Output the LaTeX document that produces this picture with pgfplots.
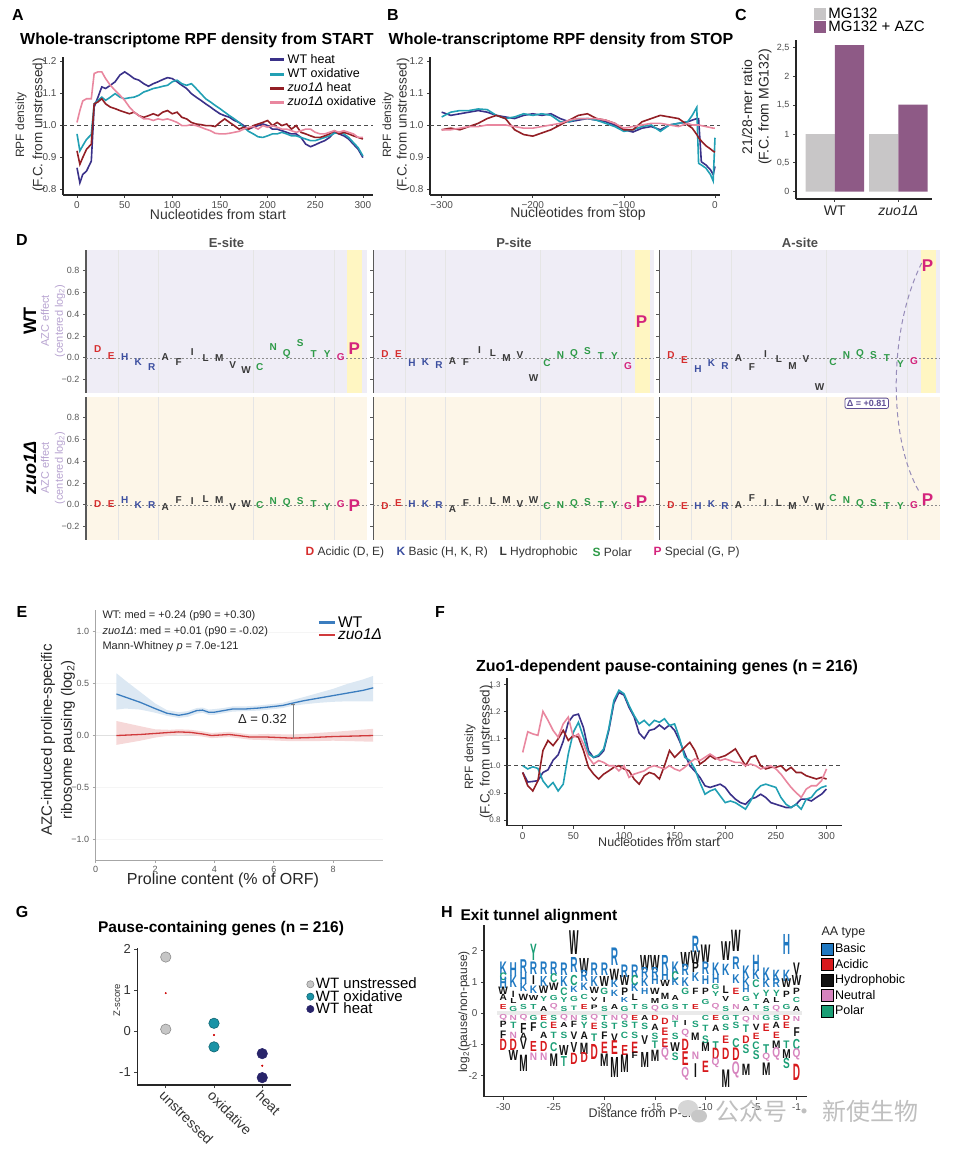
\documentclass[border=0pt]{standalone}
\usepackage{fontspec}
\setmainfont{Liberation Sans}
\newfontfamily\cjk{Noto Sans CJK SC}
\usepackage{pgfplots}
\usepackage{pgfplotstable}
\pgfplotsset{compat=1.18}

\newcommand\fs[1]{\fontsize{#1}{#1}\selectfont}

% series colours
\definecolor{cheat}{HTML}{3A3189}
\definecolor{cox}{HTML}{22A0B4}
\definecolor{czh}{HTML}{931F25}
\definecolor{czo}{HTML}{E9879F}
\definecolor{mgray}{HTML}{C8C6C7}
\definecolor{mpurp}{HTML}{8E5A86}
\definecolor{eblue}{HTML}{3B7DBF}
\definecolor{ered}{HTML}{D03A3C}
\definecolor{gcirc}{HTML}{C6C6C6}
\definecolor{gteal}{HTML}{1A93A6}
\definecolor{gnavy}{HTML}{28246A}
% amino-acid classes (panel D)
\definecolor{acid}{HTML}{D62D2D}
\definecolor{basic}{HTML}{3C4FA0}
\definecolor{hydro}{HTML}{3A3A3A}
\definecolor{polar}{HTML}{2E9A48}
\definecolor{special}{HTML}{D4247C}
\definecolor{wtbg}{HTML}{EFEDF6}
\definecolor{zbg}{HTML}{FDF6E8}
\definecolor{band}{HTML}{FFF6C2}
\definecolor{azc}{HTML}{B7A3D0}
\definecolor{dpurp}{HTML}{5E4E94}
% amino-acid classes (panel H)
\definecolor{hbasic}{HTML}{1F78C1}
\definecolor{hacid}{HTML}{D7191C}
\definecolor{hhyd}{HTML}{111111}
\definecolor{hneu}{HTML}{D683BE}
\definecolor{hpol}{HTML}{1A9E75}

\colorlet{dD}{acid}\colorlet{dE}{acid}
\colorlet{dH}{basic}\colorlet{dK}{basic}\colorlet{dR}{basic}
\colorlet{dA}{hydro}\colorlet{dF}{hydro}\colorlet{dI}{hydro}\colorlet{dL}{hydro}
\colorlet{dM}{hydro}\colorlet{dV}{hydro}\colorlet{dW}{hydro}
\colorlet{dC}{polar}\colorlet{dN}{polar}\colorlet{dQ}{polar}\colorlet{dS}{polar}
\colorlet{dT}{polar}\colorlet{dY}{polar}
\colorlet{dG}{special}\colorlet{dP}{special}

\colorlet{hH}{hbasic}\colorlet{hK}{hbasic}\colorlet{hR}{hbasic}
\colorlet{hD}{hacid}\colorlet{hE}{hacid}
\colorlet{hA}{hhyd}\colorlet{hF}{hhyd}\colorlet{hI}{hhyd}\colorlet{hL}{hhyd}
\colorlet{hM}{hhyd}\colorlet{hP}{hhyd}\colorlet{hV}{hhyd}\colorlet{hW}{hhyd}
\colorlet{hQ}{hneu}\colorlet{hN}{hneu}
\colorlet{hC}{hpol}\colorlet{hG}{hpol}\colorlet{hS}{hpol}\colorlet{hT}{hpol}\colorlet{hY}{hpol}

\newcommand\dlet[1]{\textcolor{d#1}{\if P#1\fs{17}\fi#1}}
\newcommand\dletm{\edef\curlet{\pgfplotspointmeta}\expandafter\dlet\expandafter{\curlet}}
\newcommand\hlet[1]{\textcolor{h#1}{#1}}
\newcommand\hletm{\edef\curlet{\pgfplotspointmeta}\expandafter\hlet\expandafter{\curlet}}

\pgfplotsset{
  /pgf/number format/assume math mode=true,
  gg/.style={scale only axis, anchor=south west, axis lines*=left,
    axis line style={line width=1.1pt, black!85},
    tick align=outside, major tick length=3pt,
    tick style={black!75, line width=0.7pt},
    ticklabel style={text=black!70, font=\fs{10}},
    clip=false},
  dface/.style={scale only axis, anchor=south west, width=281pt, height=142.8pt,
    xmin=0.13, xmax=20.95, ymin=-0.32, ymax=0.99,
    axis y line*=left, axis x line*=bottom,
    x axis line style={draw=none}, xtick style={draw=none},
    xtick={2.5,5.5,12.5,18.5}, xticklabels={}, xmajorgrids,
    major x grid style={black!10, line width=0.6pt},
    y axis line style={black!65, line width=1.4pt},
    ytick={-0.2,0,0.2,0.4,0.6,0.8},
    yticklabels={−0.2,0.0,0.2,0.4,0.6,0.8},
    tick align=outside, major tick length=3pt,
    ytick style={black!65, line width=0.8pt},
    yticklabel style={text=black!65, font=\fs{9}},
    clip=false},
}

% ---------- data ----------
\pgfplotstableread{
x h o zh zo
0 0.866 0.972 0.919 1.008
3 0.819 0.919 0.877 1.045
6 0.845 0.935 0.898 1.075
10 0.856 0.955 0.924 1.082
15 0.887 0.970 0.940 1.082
18 1.056 1.066 1.066 1.161
22 1.087 1.077 1.072 1.166
26 1.119 1.087 1.082 1.166
30 1.114 1.077 1.066 1.145
35 1.124 1.087 1.056 1.124
40 1.135 1.098 1.051 1.108
45 1.156 1.087 1.045 1.093
50 1.166 1.082 1.040 1.077
55 1.156 1.085 1.035 1.056
60 1.145 1.087 1.040 1.040
65 1.140 1.093 1.029 1.029
70 1.129 1.103 1.024 1.019
75 1.121 1.108 1.029 1.019
80 1.129 1.114 1.035 1.014
85 1.135 1.117 1.029 1.019
90 1.142 1.121 1.040 1.016
95 1.148 1.124 1.045 1.019
100 1.145 1.135 1.035 1.014
105 1.135 1.140 1.040 1.008
110 1.124 1.129 1.024 0.998
115 1.114 1.124 1.019 0.998
120 1.098 1.129 1.008 1.001
125 1.087 1.114 1.003 0.998
130 1.077 1.098 1.001 0.993
135 1.066 1.082 0.998 0.987
140 1.056 1.072 0.998 0.982
145 1.045 1.061 0.995 0.974
150 1.035 1.051 1.008 0.972
155 1.029 1.040 1.019 0.972
160 1.024 1.029 1.008 0.974
165 1.014 1.019 0.998 0.977
170 1.008 1.008 0.987 0.980
175 0.998 0.993 0.993 0.987
180 0.987 0.980 0.987 0.993
185 0.993 0.972 0.998 0.995
190 0.998 0.963 1.003 0.987
195 1.003 0.961 1.008 0.998
200 0.998 0.966 1.014 0.993
205 0.987 0.972 0.998 0.998
210 0.987 0.972 1.008 0.993
215 0.982 0.977 0.998 0.987
220 0.977 0.972 1.003 0.987
225 0.972 0.966 0.987 0.982
230 0.972 0.966 0.998 0.977
235 0.961 0.961 0.977 0.982
240 0.940 0.956 0.972 0.987
245 0.932 0.951 0.966 0.987
250 0.938 0.951 0.961 0.977
255 0.945 0.956 0.961 0.972
260 0.951 0.961 0.966 0.972
265 0.961 0.966 0.972 0.977
270 0.977 0.974 0.982 0.982
275 0.972 0.977 0.972 0.977
280 0.966 0.972 0.977 0.982
285 0.956 0.961 0.972 0.977
290 0.940 0.945 0.966 0.972
295 0.924 0.929 0.961 0.961
300 0.898 0.903 0.956 0.961
}\tabA

\pgfplotstableread{
x h o zh zo
-300 1.040 1.025 0.985 0.985
-290 1.030 1.040 0.990 0.985
-280 1.035 1.045 0.985 0.990
-270 1.040 1.045 0.995 0.995
-260 1.045 1.050 1.005 0.995
-250 1.040 1.048 1.020 1.000
-240 1.030 1.030 1.030 1.000
-230 1.025 1.020 1.020 1.000
-220 1.020 1.025 0.985 0.995
-210 1.030 1.035 0.970 0.990
-200 1.035 1.030 0.965 0.990
-190 1.030 1.035 0.975 0.995
-180 1.035 1.030 0.985 1.000
-170 1.020 1.010 1.000 1.005
-160 1.010 1.010 1.015 1.015
-150 1.015 1.020 1.030 1.020
-140 1.020 1.020 1.035 1.020
-130 1.015 1.015 1.020 1.020
-120 1.010 1.005 1.015 1.015
-110 1.000 0.995 1.005 1.005
-100 0.985 0.980 0.985 0.990
-90 0.978 0.985 0.985 0.995
-80 0.990 0.995 1.010 1.000
-70 0.995 1.000 1.020 1.005
-60 0.985 0.980 1.030 1.005
-50 1.000 1.000 1.025 1.000
-40 1.005 1.005 1.020 0.995
-30 1.010 1.010 1.000 1.005
-25 1.015 1.030 0.990 1.000
-20 1.020 1.055 0.970 1.000
-18 1.020 0.880 0.960 1.000
-15 0.885 0.875 0.950 0.998
-10 0.875 0.865 0.935 0.995
-5 0.860 0.845 0.925 0.992
-2 0.845 0.825 0.918 0.990
0 0.870 0.960 0.915 0.990
}\tabB

\pgfplotstableread{
x h o zh zo
0 0.975 1.000 0.975 1.049
5 0.940 0.988 0.926 1.125
10 0.942 0.996 0.907 1.117
15 0.945 0.990 0.944 1.112
20 0.975 0.944 1.056 1.200
25 0.985 0.920 1.093 1.167
30 1.020 0.938 1.074 1.130
35 1.040 0.907 1.099 1.105
40 1.090 0.932 1.130 1.154
45 1.160 1.043 1.093 1.179
50 1.185 1.123 1.111 1.105
55 1.190 1.160 1.105 1.117
60 1.140 1.105 1.056 1.080
65 1.055 1.043 0.994 1.031
70 1.030 1.031 0.969 1.006
75 1.035 1.040 0.951 1.019
80 1.055 1.062 0.969 1.012
85 1.130 1.136 0.981 1.000
90 1.230 1.240 0.994 1.000
95 1.270 1.278 1.000 0.981
100 1.260 1.265 0.988 1.000
105 1.215 1.222 0.981 0.957
110 1.180 1.185 0.951 0.969
115 1.120 1.154 0.932 0.975
120 1.100 1.167 0.963 0.981
125 1.130 1.148 0.975 0.994
130 1.135 1.167 0.969 1.000
135 1.150 1.160 0.951 0.994
140 1.135 1.173 1.000 0.988
145 1.150 1.148 1.056 1.000
150 1.130 1.154 1.031 0.988
155 1.090 1.099 1.049 0.981
160 1.045 1.031 1.068 0.994
165 1.000 1.019 1.086 1.012
170 0.980 0.988 1.056 1.025
175 0.957 0.938 1.006 1.019
180 0.926 0.895 1.019 1.031
185 0.920 0.907 1.037 1.043
190 0.926 0.914 1.025 1.031
195 0.932 0.889 1.031 1.019
200 0.920 0.864 1.037 1.025
205 0.895 0.870 1.049 1.019
210 0.877 0.864 1.062 1.012
215 0.864 0.852 1.031 1.012
220 0.858 0.840 1.000 1.000
225 0.877 0.870 1.031 1.006
230 0.883 0.907 1.037 1.000
235 0.895 0.926 1.000 0.988
240 0.883 0.932 0.988 0.994
245 0.864 0.926 0.994 1.000
250 0.858 0.920 0.994 0.988
255 0.852 0.883 1.000 0.969
260 0.846 0.858 0.981 0.944
265 0.846 0.846 0.994 0.920
270 0.858 0.858 0.975 0.901
275 0.877 0.840 0.975 0.883
280 0.877 0.877 0.963 0.914
285 0.870 0.883 0.957 0.926
290 0.883 0.907 0.951 0.926
295 0.895 0.920 0.957 0.944
300 0.914 0.926 0.951 0.988
}\tabF

\pgfplotstableread{
i l we ze wp zp wa za
1 D 0.077 0.006 0.037 -0.015 0.022 -0.006
2 E 0.018 0.006 0.037 0.020 -0.025 -0.015
3 H 0.006 0.045 -0.052 0.006 -0.105 -0.009
4 K -0.037 0.000 -0.043 0.006 -0.052 0.006
5 R -0.083 -0.006 -0.062 0.000 -0.077 -0.015
6 A 0.006 -0.024 -0.034 -0.040 -0.006 0.000
7 F -0.037 0.045 -0.043 0.015 -0.089 0.060
8 I 0.049 0.030 0.071 0.030 0.034 0.015
9 L 0.000 0.050 0.040 0.036 -0.009 0.015
10 M 0.000 0.045 0.000 0.045 -0.074 -0.009
11 V -0.062 -0.024 0.028 0.006 -0.009 0.040
12 W -0.108 0.006 -0.190 0.040 -0.268 -0.024
13 C -0.089 0.000 -0.052 -0.015 -0.037 0.060
14 N 0.100 0.030 0.022 0.000 0.025 0.040
15 Q 0.031 0.015 0.037 0.006 0.034 0.009
16 S 0.132 0.036 0.062 0.024 0.025 0.015
17 T 0.031 0.006 0.018 0.000 -0.006 -0.009
18 Y 0.031 -0.024 0.018 0.000 -0.058 -0.009
19 G 0.009 0.006 -0.074 -0.015 -0.028 0.000
20 P 0.080 -0.006 0.332 0.030 0.850 0.045
}\dtab

% smoothed medians
\pgfplotstableread{
x y
0.7 0.400
1.0 0.370
1.5 0.320
2.0 0.260
2.4 0.215
2.8 0.195
3.1 0.210
3.4 0.240
3.6 0.245
3.8 0.225
4.0 0.225
4.3 0.240
4.6 0.255
5.0 0.255
5.5 0.265
6.0 0.280
6.3 0.290
6.6 0.310
7.0 0.335
7.5 0.360
8.0 0.385
8.5 0.410
9.0 0.435
9.35 0.460
}\tabEw

\pgfplotstableread{
x y
0.7 0.000
1.5 0.010
2.0 0.020
2.5 0.030
2.8 0.035
3.2 0.030
3.6 0.015
3.9 0.000
4.2 0.005
4.5 0.010
4.8 0.000
5.2 -0.015
5.8 -0.015
6.6 -0.025
7.2 -0.020
8.0 -0.010
8.7 -0.005
9.35 0.000
}\tabEz

% confidence bands: upper edge left to right, then lower edge right to left
\pgfplotstableread{
x y
0.7 0.600
1.0 0.530
1.5 0.420
2.0 0.310
2.4 0.245
2.8 0.225
3.1 0.235
3.4 0.265
3.6 0.270
3.8 0.250
4.0 0.255
4.3 0.265
4.6 0.280
5.0 0.280
5.5 0.290
6.0 0.305
6.3 0.315
6.6 0.340
7.0 0.370
7.5 0.410
8.0 0.450
8.5 0.500
9.0 0.540
9.35 0.575
9.35 0.330
9.0 0.330
8.5 0.330
8.0 0.325
7.5 0.315
7.0 0.300
6.6 0.285
6.3 0.265
6.0 0.255
5.5 0.240
5.0 0.235
4.6 0.230
4.3 0.215
4.0 0.200
3.8 0.200
3.6 0.220
3.4 0.210
3.1 0.180
2.8 0.170
2.4 0.190
2.0 0.220
1.5 0.250
1.0 0.260
0.7 0.250
}\bandEw

\pgfplotstableread{
x y
0.7 0.140
1.5 0.090
2.0 0.060
2.5 0.055
2.8 0.060
3.2 0.055
3.6 0.040
3.9 0.025
4.2 0.030
4.5 0.035
4.8 0.025
5.2 0.010
5.8 0.015
6.6 0.010
7.2 0.020
8.0 0.035
8.7 0.050
9.35 0.065
9.35 -0.060
8.7 -0.055
8.0 -0.050
7.2 -0.055
6.6 -0.055
5.8 -0.045
5.2 -0.040
4.8 -0.025
4.5 -0.015
4.2 -0.020
3.9 -0.025
3.6 -0.010
3.2 0.005
2.8 0.010
2.5 0.000
2.0 -0.020
1.5 -0.050
0.7 -0.090
}\bandEz

\pgfplotstableread{
x y l s
-30 1.45 K 1.0
-30 1.18 C 0.6
-30 0.98 H 0.9
-30 0.72 W 0.6
-30 0.5 A 0.5
-30 0.2 E 0.4
-30 -0.15 Q 0.4
-30 -0.35 P 0.5
-30 -0.7 F 0.6
-30 -1.0 D 0.9
-29 1.4 H 1.1
-29 1.0 K 0.9
-29 0.6 I 0.5
-29 0.38 L 0.4
-29 0.15 G 0.4
-29 -0.15 N 0.4
-29 -0.4 T 0.5
-29 -0.72 N 0.5
-29 -1.0 D 0.9
-29 -1.35 W 0.8
-28 1.5 R 1.1
-28 1.1 H 0.9
-28 0.8 K 0.6
-28 0.52 W 0.5
-28 0.2 S 0.4
-28 -0.15 Q 0.4
-28 -0.5 F 0.8
-28 -0.75 A 0.5
-28 -1.0 V 0.8
-28 -1.6 M 1.3
-27 1.95 Y 1.3
-27 1.45 R 1.0
-27 1.05 I 0.7
-27 0.75 K 0.6
-27 0.5 W 0.4
-27 0.2 T 0.4
-27 -0.15 G 0.4
-27 -0.45 F 0.7
-27 -1.05 E 0.8
-27 -1.4 N 0.6
-26 1.45 R 1.0
-26 1.02 K 0.8
-26 0.75 W 0.6
-26 0.45 Y 0.4
-26 0.15 A 0.4
-26 -0.15 E 0.4
-26 -0.4 C 0.5
-26 -0.72 A 0.5
-26 -1.05 D 0.8
-26 -1.4 N 0.6
-25 1.45 R 1.0
-25 1.12 C 0.7
-25 0.85 W 0.6
-25 0.5 G 0.4
-25 0.2 Q 0.4
-25 -0.15 S 0.4
-25 -0.4 E 0.5
-25 -0.7 T 0.5
-25 -1.1 C 0.7
-25 -1.5 M 1.0
-24 1.4 R 1.0
-24 1.0 K 0.8
-24 0.7 C 0.6
-24 0.42 Y 0.4
-24 0.15 S 0.4
-24 -0.15 Q 0.4
-24 -0.38 A 0.4
-24 -0.7 S 0.5
-24 -1.2 W 0.8
-24 -1.55 T 0.8
-23 2.25 W 1.9
-23 1.55 R 1.2
-23 1.05 C 0.8
-23 0.75 K 0.5
-23 0.45 G 0.4
-23 0.15 T 0.35
-23 -0.15 N 0.4
-23 -0.35 F 0.5
-23 -0.72 V 0.6
-23 -1.1 V 0.8
-23 -1.45 D 0.9
-22 1.5 W 1.2
-22 1.18 R 0.9
-22 0.85 K 0.6
-22 0.52 C 0.4
-22 0.2 E 0.4
-22 -0.15 S 0.4
-22 -0.4 Y 0.5
-22 -0.72 A 0.6
-22 -1.15 M 0.9
-22 -1.42 D 0.8
-21 1.4 R 1.0
-21 1.02 K 0.8
-21 0.72 W 0.5
-21 0.45 V 0.3
-21 0.2 P 0.35
-21 -0.15 Q 0.4
-21 -0.42 E 0.5
-21 -0.8 T 0.6
-21 -1.25 D 1.2
-20 1.4 R 1.0
-20 1.0 W 0.8
-20 0.7 G 0.5
-20 0.42 I 0.4
-20 0.15 S 0.4
-20 -0.15 T 0.4
-20 -0.38 S 0.5
-20 -0.72 F 0.6
-20 -1.1 E 0.9
-20 -1.5 M 1.0
-19 1.8 R 1.4
-19 1.22 W 0.9
-19 0.95 K 0.6
-19 0.62 K 0.5
-19 0.2 A 0.4
-19 -0.15 N 0.4
-19 -0.42 T 0.5
-19 -0.8 V 0.6
-19 -1.1 E 1.1
-19 -1.75 M 1.6
-18 1.35 R 1.0
-18 1.05 W 0.8
-18 0.7 P 0.6
-18 0.42 K 0.4
-18 0.15 G 0.4
-18 -0.15 Q 0.4
-18 -0.35 S 0.5
-18 -0.7 C 0.5
-18 -1.2 E 0.8
-18 -1.6 M 1.4
-17 1.35 R 1.0
-17 1.05 C 0.8
-17 0.8 K 0.6
-17 0.5 L 0.5
-17 0.2 T 0.4
-17 -0.15 E 0.4
-17 -0.38 T 0.5
-17 -0.7 S 0.5
-17 -1.1 E 0.9
-17 -1.35 F 0.5
-16 1.6 W 1.2
-16 1.3 R 0.8
-16 1.0 K 0.7
-16 0.7 H 0.5
-16 0.2 S 0.4
-16 -0.15 A 0.4
-16 -0.42 S 0.5
-16 -0.85 V 0.7
-16 -1.5 M 1.2
-15 1.6 W 1.2
-15 1.3 R 0.8
-15 1.05 H 0.7
-15 0.7 W 0.5
-15 0.4 M 0.4
-15 0.15 Q 0.4
-15 -0.15 D 0.4
-15 -0.45 A 0.5
-15 -0.75 S 0.5
-15 -1.0 T 0.6
-15 -1.35 M 0.9
-14 1.6 R 1.2
-14 1.2 H 0.8
-14 0.95 W 0.5
-14 0.55 M 0.5
-14 0.2 G 0.4
-14 -0.25 D 0.5
-14 -0.6 E 0.6
-14 -0.95 E 0.7
-14 -1.3 Q 0.8
-13 1.45 K 1.0
-13 1.2 C 0.7
-13 1.0 K 0.6
-13 0.5 A 0.4
-13 0.2 S 0.4
-13 -0.15 N 0.4
-13 -0.35 T 0.5
-13 -0.75 S 0.5
-13 -1.1 W 0.7
-13 -1.4 S 0.6
-12 1.7 W 1.2
-12 1.4 R 0.9
-12 1.0 K 0.7
-12 0.7 G 0.5
-12 0.2 T 0.4
-12 -0.3 I 0.4
-12 -0.65 Q 0.5
-12 -1.0 D 0.9
-12 -1.45 E 1.1
-12 -1.95 Q 0.8
-11 2.2 R 1.3
-11 1.8 W 1.0
-11 1.45 P 0.8
-11 1.15 K 0.7
-11 0.7 F 0.5
-11 0.2 E 0.4
-11 -0.35 S 0.5
-11 -0.75 M 0.6
-11 -1.35 N 0.6
-11 -1.85 I 1.1
-10 1.9 W 1.4
-10 1.45 R 1.0
-10 1.05 H 0.7
-10 0.7 P 0.5
-10 0.35 G 0.4
-10 -0.15 C 0.4
-10 -0.5 T 0.5
-10 -0.85 S 0.6
-10 -1.1 M 0.7
-10 -1.7 E 0.9
-9 1.4 K 1.0
-9 1.1 H 0.7
-9 0.85 G 0.4
-9 0.6 Y 0.4
-9 0.2 Q 0.4
-9 -0.15 E 0.4
-9 -0.5 A 0.5
-9 -1.05 T 0.7
-9 -1.3 D 0.9
-9 -1.6 Q 0.6
-8 2.0 W 1.5
-8 1.4 K 0.9
-8 0.75 L 0.6
-8 0.45 V 0.4
-8 0.15 S 0.4
-8 -0.15 G 0.4
-8 -0.45 S 0.5
-8 -0.85 E 0.6
-8 -1.3 D 0.9
-8 -2.1 M 1.4
-7 2.3 W 1.7
-7 1.6 R 1.0
-7 1.1 K 0.7
-7 0.7 E 0.5
-7 0.2 N 0.4
-7 -0.15 T 0.4
-7 -0.4 S 0.5
-7 -0.95 C 0.7
-7 -1.3 D 1.0
-7 -1.8 Q 1.0
-6 1.3 K 1.0
-6 1.0 K 0.7
-6 0.75 H 0.5
-6 0.45 G 0.4
-6 0.15 A 0.4
-6 -0.2 Q 0.4
-6 -0.5 T 0.6
-6 -0.85 D 0.6
-6 -1.15 S 0.7
-6 -1.8 M 0.9
-5 1.6 H 1.3
-5 1.25 K 0.8
-5 0.95 C 0.6
-5 0.55 Y 0.5
-5 0.2 T 0.4
-5 -0.15 N 0.4
-5 -0.45 V 0.5
-5 -0.75 E 0.5
-5 -1.05 C 0.6
-5 -1.35 S 0.7
-4 1.25 K 1.0
-4 0.95 K 0.7
-4 0.65 Y 0.5
-4 0.4 A 0.4
-4 0.15 S 0.4
-4 -0.15 G 0.4
-4 -0.45 E 0.6
-4 -1.15 T 0.7
-4 -1.4 Q 0.5
-4 -1.8 M 1.0
-3 1.2 K 0.9
-3 0.95 R 0.7
-3 0.65 Y 0.5
-3 0.42 L 0.4
-3 0.15 Q 0.4
-3 -0.15 S 0.4
-3 -0.4 A 0.5
-3 -0.7 E 0.5
-3 -1.0 M 0.6
-3 -1.3 Q 0.8
-2 2.2 H 1.6
-2 1.2 K 0.9
-2 0.95 W 0.7
-2 0.6 P 0.5
-2 0.2 G 0.4
-2 -0.15 D 0.4
-2 -0.4 E 0.5
-2 -1.0 T 0.6
-2 -1.3 M 0.7
-2 -1.6 S 0.8
-1 1.4 V 1.0
-1 1.05 W 0.8
-1 0.7 P 0.5
-1 0.42 C 0.4
-1 0.15 A 0.4
-1 -0.2 N 0.4
-1 -0.6 F 0.7
-1 -1.0 C 0.8
-1 -1.3 Q 0.7
-1 -1.9 D 1.3
}\htab

% one facet of the amino-acid effect grid
\newcommand\dfacet[6]{%
\begin{axis}[dface, at={(#1pt,-#2pt)}, axis background/.style={fill=#4}, #5]
\ifnum#6=1 \addplot[fill=band, draw=none] coordinates {(19.5,-0.32) (20.6,-0.32) (20.6,0.99) (19.5,0.99)} -- cycle;\fi
\addplot[black!45, line width=0.5pt, dash pattern=on 2pt off 2pt] coordinates {(0.13,0) (20.95,0)};
\addplot[only marks, mark=none, point meta=explicit symbolic,
  nodes near coords={\dletm},
  nodes near coords style={anchor=center, inner sep=0pt, font=\bfseries\fs{10}}]
  table[x=i, y=#3, meta=l] {\dtab};
\end{axis}}

\begin{document}
\begin{tikzpicture}
\path[use as bounding box] (0pt,0pt) rectangle (959pt,-1155pt);

% ---------- A ----------
\begin{axis}[gg, at={(63pt,-195pt)}, width=310pt, height=138pt,
  xmin=-14.7, xmax=310.6, ymin=0.781, ymax=1.2125,
  xtick={0,50,...,300}, ytick={0.8,0.9,1.0,1.1,1.2},
  yticklabels={0.8,0.9,1.0,1.1,1.2},
  legend style={at={(1.02,1.04)}, anchor=north east, draw=none, fill=none,
    font=\fs{12.5}, row sep=-0.5pt, inner sep=1pt},
  legend cell align=left,
  legend image code/.code={\draw[#1, line width=3pt] (0pt,0pt) -- (14pt,0pt);}]
\addplot[forget plot, black!70, line width=0.8pt, dash pattern=on 4pt off 3pt] coordinates {(-14.7,1) (310.6,1)};
\addplot[cheat, line width=1.6pt] table[x=x,y=h]{\tabA}; \addlegendentry{WT heat}
\addplot[cox, line width=1.6pt] table[x=x,y=o]{\tabA}; \addlegendentry{WT oxidative}
\addplot[czh, line width=1.6pt] table[x=x,y=zh]{\tabA}; \addlegendentry{\textit{zuo1Δ} heat}
\addplot[czo, line width=1.6pt] table[x=x,y=zo]{\tabA}; \addlegendentry{\textit{zuo1Δ} oxidative}
\end{axis}

% ---------- B ----------
\begin{axis}[gg, at={(430pt,-195pt)}, width=290pt, height=138pt,
  xmin=-312.8, xmax=5.5, ymin=0.781, ymax=1.2125,
  xtick={-300,-200,-100,0}, xticklabels={−300,−200,−100,0},
  ytick={0.8,0.9,1.0,1.1,1.2}, yticklabels={0.8,0.9,1.0,1.1,1.2}]
\addplot[black!70, line width=0.8pt, dash pattern=on 4pt off 3pt] coordinates {(-312.8,1) (5.5,1)};
\addplot[cheat, line width=1.6pt] table[x=x,y=h]{\tabB};
\addplot[cox, line width=1.6pt] table[x=x,y=o]{\tabB};
\addplot[czh, line width=1.6pt] table[x=x,y=zh]{\tabB};
\addplot[czo, line width=1.6pt] table[x=x,y=zo]{\tabB};
\end{axis}

% ---------- C ----------
\begin{axis}[gg, at={(796pt,-199pt)}, width=136pt, height=159pt,
  xmin=-0.61, xmax=1.53, ymin=-0.127, ymax=2.63,
  ybar=0pt, bar width=0.46,
  xtick={0,1}, xticklabels={WT,\textit{zuo1Δ}},
  xticklabel style={font=\fs{14}, text=black!85},
  ytick={0,0.5,1,1.5,2,2.5}, yticklabels={0,{0,5},1,{1,5},2,{2,5}},
  yticklabel style={font=\fs{9}},
  legend style={at={(0.13,1.22)}, anchor=north west, draw=none, fill=none,
    font=\fs{15}, row sep=-3pt, inner sep=0.5pt},
  legend cell align=left,
  legend image code/.code={\fill[#1] (0pt,-6pt) rectangle (12pt,6pt);}]
\addplot[fill=mgray, draw=none] coordinates {(0,1) (1,1)}; \addlegendentry{MG132}
\addplot[fill=mpurp, draw=none] coordinates {(0,2.54) (1,1.51)}; \addlegendentry{MG132 + AZC}
\end{axis}

% ---------- D ----------
\dfacet{86}{392.7}{we}{wtbg}{}{1}
\dfacet{373.3}{392.7}{wp}{wtbg}{yticklabels={}}{1}
\dfacet{659.3}{392.7}{wa}{wtbg}{yticklabels={}}{1}
\dfacet{86}{539.7}{ze}{zbg}{}{0}
\dfacet{373.3}{539.7}{zp}{zbg}{yticklabels={}}{0}
\dfacet{659.3}{539.7}{za}{zbg}{yticklabels={}}{0}

% ---------- E ----------
\begin{axis}[gg, at={(95.7pt,-860pt)}, width=287.3pt, height=250pt,
  xmin=0, xmax=9.68, ymin=-1.2, ymax=1.21,
  axis line style={black!35, line width=0.8pt}, tick style={black!35},
  ticklabel style={font=\fs{9}, text=black!65},
  xtick={0,2,4,6,8},
  ytick={-1,-0.5,0,0.5,1}, yticklabels={−1.0,−0.5,0.0,0.5,1.0},
  ymajorgrids, major grid style={black!4},
  legend style={at={(0.77,0.985)}, anchor=north west, draw=none, fill=none,
    font=\fs{15.5}, row sep=-3.5pt, inner sep=0.5pt},
  legend cell align=left,
  legend image code/.code={\draw[#1, line width=2.5pt] (0pt,0pt) -- (16pt,0pt);}]
\addplot[forget plot, black!12, line width=0.8pt] coordinates {(0,0) (9.68,0)};
\addplot[forget plot, fill=eblue!18, draw=none] table[x=x,y=y]{\bandEw} -- cycle;
\addplot[forget plot, fill=ered!20, draw=none] table[x=x,y=y]{\bandEz} -- cycle;
\addplot[eblue, line width=1.3pt] table[x=x,y=y]{\tabEw}; \addlegendentry{WT}
\addplot[ered, line width=1.3pt] table[x=x,y=y]{\tabEz}; \addlegendentry{\textit{zuo1Δ}}
\addplot[forget plot, black!50, line width=0.9pt] coordinates {(6.65,-0.02) (6.65,0.30)};
\addplot[forget plot, black!50, line width=0.9pt] coordinates {(6.58,0.30) (6.72,0.30)};
\node[font=\fs{13}, text=black!85] at (axis cs:5.62,0.157) {Δ = 0.32};
\end{axis}

% ---------- F ----------
\begin{axis}[gg, at={(507pt,-825.7pt)}, width=334.7pt, height=147.7pt,
  xmin=-15.5, xmax=315, ymin=0.779, ymax=1.323,
  xtick={0,50,...,300},
  ytick={0.8,0.9,1.0,1.1,1.2,1.3}, yticklabels={0.8,0.9,1.0,1.1,1.2,1.3},
  yticklabel style={font=\fs{8}}]
\addplot[black!70, line width=0.8pt, dash pattern=on 4pt off 3pt] coordinates {(-15.5,1) (315,1)};
\addplot[cheat, line width=1.6pt] table[x=x,y=h]{\tabF};
\addplot[cox, line width=1.6pt] table[x=x,y=o]{\tabF};
\addplot[czh, line width=1.6pt] table[x=x,y=zh]{\tabF};
\addplot[czo, line width=1.6pt] table[x=x,y=zo]{\tabF};
\end{axis}

% ---------- G ----------
\begin{axis}[gg, at={(137.3pt,-1085pt)}, width=153.4pt, height=137pt,
  xmin=0.41, xmax=3.59, ymin=-1.31, ymax=2.03,
  xtick={1,2,3}, xticklabels={unstressed,oxidative,heat},
  xticklabel style={rotate=-45, anchor=north west, font=\fs{14}, text=black!80, inner sep=1pt},
  ytick={-1,0,1,2}, yticklabel style={font=\fs{13}, text=black!80},
  legend style={at={(1.1,0.8)}, anchor=north west, draw=none, fill=none,
    font=\fs{15}, row sep=-4pt, inner sep=0.5pt},
  legend cell align=left,
  legend image post style={mark size=3.6pt}]
\addplot[only marks, mark=*, mark size=5.2pt, mark options={fill=gcirc, draw=black!45, line width=0.6pt}] coordinates {(1,1.81) (1,0.05)}; \addlegendentry{WT unstressed}
\addplot[only marks, mark=*, mark size=5.2pt, mark options={fill=gteal, draw=gteal!70!black, line width=0.6pt}] coordinates {(2,0.195) (2,-0.38)}; \addlegendentry{WT oxidative}
\addplot[only marks, mark=*, mark size=5.2pt, mark options={fill=gnavy, draw=gnavy, line width=0.6pt}] coordinates {(3,-0.545) (3,-1.13)}; \addlegendentry{WT heat}
\addplot[forget plot, only marks, mark=*, mark size=0.8pt, color=red!80!black] coordinates {(1,0.93) (2,-0.09) (3,-0.84)};
\end{axis}

% ---------- H ----------
\begin{axis}[gg, at={(484pt,-1096.7pt)}, width=322.7pt, height=171.7pt,
  xmin=-31.9, xmax=0, ymin=-2.67, ymax=2.82,
  xtick={-30,-25,-20,-15,-10,-5,-1}, ytick={-2,-1,0,1,2},
  legend style={at={(1.04,0.91)}, anchor=north west, draw=none, fill=none,
    font=\fs{12.5}, row sep=1pt, inner sep=0.8pt},
  legend cell align=left,
  legend image code/.code={\fill[#1] (0pt,-6pt) rectangle (12pt,6pt);}]
\addplot[forget plot, only marks, mark=none, point meta=explicit symbolic,
  visualization depends on={1.3*\thisrow{s} \as \sz},
  nodes near coords={\hletm},
  nodes near coords style={anchor=center, inner sep=0pt, font=\bfseries\fs{14}, yscale=\sz, xscale=0.72}]
  table[x=x, y=y, meta=l] {\htab};
\addplot[forget plot, white!85!black, line width=4pt, opacity=0.55] coordinates {(-30.6,0) (-0.5,0)};
\addlegendimage{fill=hbasic}\addlegendentry{Basic}
\addlegendimage{fill=hacid}\addlegendentry{Acidic}
\addlegendimage{fill=hhyd}\addlegendentry{Hydrophobic}
\addlegendimage{fill=hneu}\addlegendentry{Neutral}
\addlegendimage{fill=hpol}\addlegendentry{Polar}
\end{axis}

% ---------- text ----------
\begin{scope}[x=1pt, y=-1pt]
% panel letters
\foreach \t/\px/\py in {A/18/15, B/393/15, C/741/15, D/22/240, E/22/612, F/440/612, G/22/912, H/447/912}
  \node[font=\bfseries\fs{16}] at (\px,\py) {\t};
% titles
\node[font=\bfseries\fs{16}] at (197,40) {Whole-transcriptome RPF density from START};
\node[font=\bfseries\fs{16}] at (561,40) {Whole-transcriptome RPF density from STOP};
\node[font=\bfseries\fs{16}] at (667,667) {Zuo1-dependent pause-containing genes (n = 216)};
\node[font=\bfseries\fs{15.5}] at (221,929) {Pause-containing genes (n = 216)};
\node[font=\bfseries\fs{15.5}, anchor=west] at (457,917) {Exit tunnel alignment};
% A, B axis titles
\node[font=\fs{14}, text=black!80] at (218,214) {Nucleotides from start};
\node[font=\fs{12}, text=black!80, rotate=90] at (21,125) {RPF density};
\node[font=\fs{13.5}, text=black!80, rotate=90] at (39,125) {(F.C. from unstressed)};
\node[font=\fs{14}, text=black!80] at (578,214) {Nucleotides from stop};
\node[font=\fs{12}, text=black!80, rotate=90] at (388,125) {RPF density};
\node[font=\fs{13.5}, text=black!80, rotate=90] at (403,125) {(F.C. from unstressed)};
% C axis title
\node[font=\fs{14}, text=black!85, rotate=90] at (747,107) {21/28-mer ratio};
\node[font=\fs{14}, text=black!85, rotate=90] at (765,107) {(F.C. from MG132)};
% D strips and row labels
\node[font=\bfseries\fs{13}, text=black!70] at (226.5,243) {E-site};
\node[font=\bfseries\fs{13}, text=black!70] at (514,243) {P-site};
\node[font=\bfseries\fs{13}, text=black!70] at (800,243) {A-site};
\node[font=\bfseries\fs{18}, rotate=90] at (30,321) {WT};
\node[font=\fs{11}, text=azc, rotate=90] at (45,321) {AZC effect};
\node[font=\fs{11}, text=azc, rotate=90] at (60,321) {(centered log\textsubscript{2})};
\node[font=\bfseries\itshape\fs{18}, rotate=90] at (30,468) {zuo1Δ};
\node[font=\fs{11}, text=azc, rotate=90] at (45,468) {AZC effect};
\node[font=\fs{11}, text=azc, rotate=90] at (60,468) {(centered log\textsubscript{2})};
\draw[dpurp!65, line width=1pt, dash pattern=on 5pt off 3.5pt] (921.7,263) .. controls (888,330) and (888,440) .. (920,493);
\node[draw=dpurp, rounded corners=2pt, line width=0.8pt, fill=white, font=\bfseries\fs{9}, text=dpurp, inner sep=2pt] at (866.7,403.3) {Δ = +0.81};
% D key
\begin{scope}[every node/.style={anchor=west, font=\fs{12}, text=black!80}]
\node at (302,552) {\textcolor{acid}{\bfseries D} Acidic (D, E)};
\node at (393,552) {\textcolor{basic}{\bfseries K} Basic (H, K, R)};
\node at (496,552) {\textcolor{hydro}{\bfseries L} Hydrophobic};
\node at (589,552) {\textcolor{polar}{\bfseries S} Polar};
\node at (650,552) {\textcolor{special}{\bfseries P} Special (G, P)};
\end{scope}
% E annotations and axis titles
\begin{scope}[every node/.style={anchor=west, font=\fs{11}, text=black!85}]
\node at (99,616) {WT: med = +0.24 (p90 = +0.30)};
\node at (99,632) {\textit{zuo1Δ}: med = +0.01 (p90 = -0.02)};
\node at (99,647) {Mann-Whitney \textit{p} = 7.0e-121};
\end{scope}
\node[font=\fs{15}, text=black!85, rotate=90] at (48,740) {AZC-induced proline-specific};
\node[font=\fs{15}, text=black!85, rotate=90] at (68,740) {ribosome pausing (log\textsubscript{2})};
\node[font=\fs{16}, text=black!85] at (223,880) {Proline content (\% of ORF)};
% F axis titles
\node[font=\fs{12.5}, text=black!80] at (659,842) {Nucleotides from start};
\node[font=\fs{12}, text=black!80, rotate=90] at (470,757) {RPF density};
\node[font=\fs{13.5}, text=black!80, rotate=90] at (486,752) {(F.C. from unstressed)};
% G, H axis titles
\node[font=\fs{9.5}, text=black!80, rotate=90] at (117,1000) {Z-score};
\node[font=\fs{12}, text=black!80, rotate=90] at (464,1012) {log\textsubscript{2}(pause/non-pause)};
\node[font=\fs{12.5}, text=black!80] at (645,1113) {Distance from P-site};
\node[font=\fs{12.5}, text=black!85, anchor=west] at (818,932) {AA type};
% footer mark
\fill[black!16] (688,1108) ellipse (10pt and 8pt);
\fill[black!22] (699,1116) ellipse (8pt and 6.5pt);
\node[font=\cjk\fs{24}, text=black!25, anchor=west] at (712,1111) {公众号 · 新使生物};
\end{scope}
\end{tikzpicture}
\end{document}
